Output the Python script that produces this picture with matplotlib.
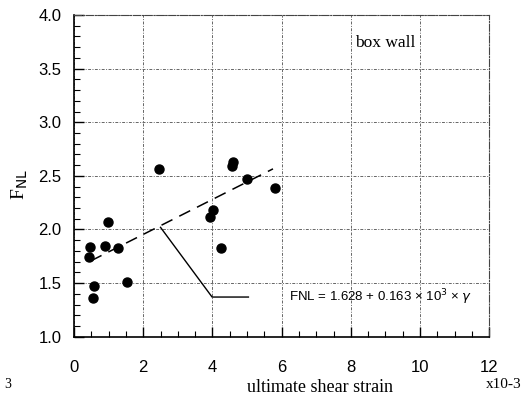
import numpy as np
import matplotlib.pyplot as plt

# ultimate shear strain (x10^-3) and F_NL
strain = [0.46, 0.44, 0.59, 0.56, 0.97, 0.91, 1.28, 1.53, 2.45,
          3.92, 4.01, 4.24, 4.56, 4.60, 4.99, 5.80]
fnl = [1.84, 1.74, 1.47, 1.36, 2.07, 1.85, 1.83, 1.51, 2.56,
       2.12, 2.18, 1.83, 2.59, 2.63, 2.47, 2.39]

# fit line: FNL = 1.628 + 0.163e3 * gamma
fit_a = 1.628
fit_b = 0.163
fit_range = [0.48, 5.75]

xticks = [0, 2, 4, 6, 8, 10, 12]
yticks = [1.0, 1.5, 2.0, 2.5, 3.0, 3.5, 4.0]

serif = 'Liberation Serif'
sans = 'Liberation Sans'

fig = plt.figure(figsize=(5.23, 4.01), dpi=100)
ax = fig.add_axes([0.1415, 0.1603, 0.794, 0.8023])

ax.set_xlim(0, 12)
ax.set_ylim(1.0, 4.0)
ax.set_xticks(xticks)
ax.set_yticks(yticks)
ax.set_xticks(np.arange(0, 12.01, 0.5), minor=True)
ax.set_yticks(np.arange(1.0, 4.001, 0.1), minor=True)
ax.set_xticklabels([str(v) for v in xticks], fontfamily=sans, fontsize=12)
ax.set_yticklabels([f'{v:.1f}' for v in yticks], fontfamily=sans, fontsize=12)
ax.tick_params(which='major', direction='in', length=7, width=1.0, pad=17)
ax.tick_params(axis='y', which='major', pad=9)
ax.tick_params(which='minor', direction='in', length=4, width=0.8)
ax.tick_params(top=False, right=False, which='both')

ax.grid(True, which='major', linestyle=(0, (3, 1.5, 1, 1.5)), color='#666666', linewidth=0.7)
for side in ['top', 'right']:
    ax.spines[side].set_linestyle('-.')
    ax.spines[side].set_linewidth(0.8)
    ax.spines[side].set_color('#444444')
for side in ['left', 'bottom']:
    ax.spines[side].set_linewidth(1.2)

ax.plot(strain, fnl, 'o', color='black', markersize=6.5, zorder=3)

xf = np.array(fit_range)
ax.plot(xf, fit_a + fit_b * xf, color='black', linestyle=(0, (8, 5)), linewidth=1.1)

# leader line to the equation
ax.plot([2.5, 3.99, 5.04], [2.02, 1.37, 1.37], color='black', linewidth=1.0)
ax.text(6.2, 1.37, 'FNL = 1.628 + 0.163 × 10$^3$ × $\\gamma$', fontfamily=sans,
        fontsize=9.5, va='center', ha='left')

ax.text(9.0, 3.74, 'box wall', fontfamily=serif, fontsize=12.5, ha='center', va='center')

fig.text(320 / 523, 1 - 388 / 401, 'ultimate shear strain', fontfamily=serif,
         fontsize=13, ha='center', va='center')
fig.text(521 / 523, 1 - 384 / 401, 'x10-3', fontfamily=serif, fontsize=11,
         ha='right', va='center')
fig.text(8 / 523, 1 - 384 / 401, '3', fontfamily=serif, fontsize=10,
         ha='center', va='center')
fig.text(20 / 523, 1 - 185 / 401, 'F$_{\\mathrm{NL}}$', fontfamily=serif,
         fontsize=14, rotation=90, ha='center', va='center')

plt.savefig('out.png', dpi=100)
